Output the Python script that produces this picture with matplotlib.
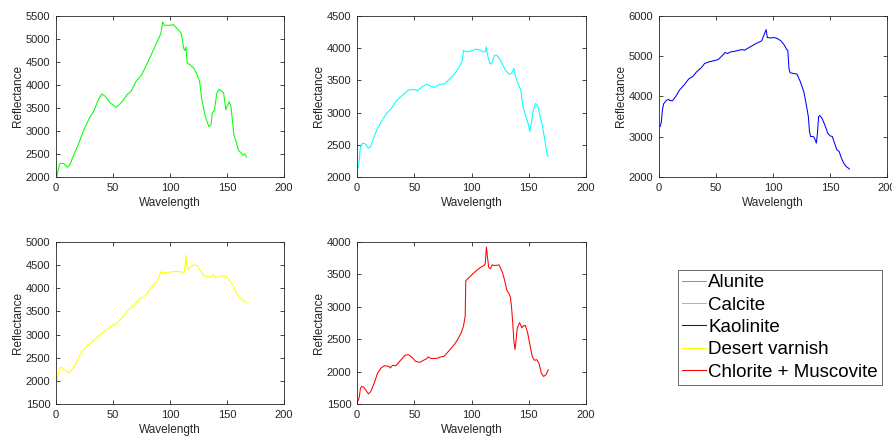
import matplotlib
matplotlib.use("Agg")
import matplotlib.pyplot as plt

plt.rcParams['font.family'] = ['Liberation Sans', 'DejaVu Sans']

names = ["Alunite", "Calcite", "Kaolinite", "Desert varnish", "Chlorite + Muscovite"]
colors = ["#00ff00", "#00ffff", "#0000ff", "#ffff00", "#ff0000"]

alunite_x = [0.6, 2.9, 4, 7, 10, 12, 15, 20, 25, 30, 33, 37, 40, 43, 48, 53, 58, 62, 66, 70, 75, 80, 84, 88, 92,
             93.5, 95, 100, 103, 107, 110, 112, 113, 114, 115, 118, 121, 124, 126, 128, 131, 134, 136, 137, 139,
             141, 143, 145, 147, 149, 150, 152, 153.5, 155, 156, 158, 160, 162, 164, 165.5, 167]
alunite_y = [2000, 2267, 2300, 2290, 2210, 2260, 2447, 2736, 3061, 3313, 3422, 3674, 3804, 3760, 3602, 3515, 3638,
             3782, 3870, 4071, 4215, 4468, 4685, 4901, 5118, 5370, 5298, 5298, 5312, 5204, 5118, 4793, 4750, 4830,
             4482, 4432, 4360, 4215, 4071, 3674, 3313, 3097, 3133, 3386, 3458, 3818, 3905, 3870, 3833, 3458, 3530,
             3638, 3530, 3169, 2916, 2772, 2577, 2534, 2469, 2505, 2433]

calcite_x = [1, 2, 3, 5, 7, 10, 12, 15, 18, 22, 26, 30, 35, 40, 45, 50, 53, 57, 61, 64, 68, 72, 76, 80, 85, 89, 92,
             93, 95, 100, 104, 108, 110, 112, 113, 114, 116, 117.5, 120, 122, 125, 127, 130, 133, 135, 137, 138, 140,
             143, 145, 147, 149, 151, 152, 154, 156, 158, 160, 162, 164, 166, 167]
calcite_y = [2150, 2268, 2474, 2526, 2515, 2448, 2474, 2629, 2758, 2887, 2990, 3067, 3196, 3273, 3350, 3361, 3340,
             3402, 3443, 3412, 3392, 3438, 3443, 3505, 3598, 3696, 3814, 3969, 3943, 3959, 3985, 3969, 3943, 3943,
             4021, 3892, 3763, 3753, 3892, 3892, 3825, 3747, 3649, 3598, 3608, 3686, 3598, 3479, 3350, 3093, 2964,
             2861, 2706, 2809, 3041, 3144, 3093, 2938, 2784, 2577, 2361, 2320]

kaolinite_x = [1, 2, 3, 4, 6, 8, 10, 12, 15, 18, 22, 26, 30, 33, 37, 40, 44, 48, 52, 55, 58, 60, 63, 67, 70, 73, 75,
               80, 85, 90, 92, 94, 95, 98, 101, 104, 107, 110, 112, 113, 114, 115, 118, 121, 124, 127, 129, 131,
               132, 133, 135, 136, 137, 138, 139, 140, 141, 143, 146, 148, 150, 152, 154, 156, 158, 160, 162, 164,
               166, 167]
kaolinite_y = [3254, 3353, 3666, 3814, 3889, 3930, 3897, 3897, 4012, 4161, 4285, 4433, 4507, 4614, 4713, 4820, 4862,
               4887, 4920, 5002, 5093, 5068, 5109, 5126, 5150, 5167, 5150, 5233, 5315, 5381, 5522, 5662, 5464, 5456,
               5464, 5439, 5381, 5274, 5167, 5150, 4697, 4590, 4573, 4557, 4367, 4120, 3831, 3501, 3130, 3006, 3006,
               2990, 2924, 2841, 3089, 3501, 3526, 3460, 3254, 3089, 3023, 3006, 2841, 2676, 2635, 2470, 2346, 2264,
               2223, 2198]

varnish_x = [1, 2, 3, 5, 8, 11, 13, 16, 19, 22, 25, 28, 32, 36, 40, 45, 50, 53, 56, 60, 63, 67, 70, 73, 77, 80, 83,
             87, 90, 92, 95, 98, 101, 105, 109, 112, 113, 114, 115, 116, 118, 121, 124, 127, 130, 133, 136, 138, 140,
             143, 147, 150, 153, 156, 158, 161, 164, 167]
varnish_y = [2002, 2167, 2275, 2289, 2224, 2167, 2203, 2310, 2454, 2597, 2691, 2777, 2848, 2934, 3028, 3121, 3207,
             3228, 3315, 3422, 3530, 3601, 3673, 3766, 3816, 3888, 3996, 4103, 4211, 4354, 4340, 4333, 4354, 4368,
             4354, 4340, 4426, 4713, 4462, 4412, 4462, 4512, 4484, 4368, 4268, 4247, 4247, 4297, 4225, 4268, 4268,
             4247, 4139, 4032, 3888, 3795, 3745, 3695]

chlorite_x = [1, 2, 3, 4, 6, 8, 10, 12, 15, 18, 21, 24, 28, 29, 31, 34, 38, 42, 45, 48, 51, 55, 58, 61, 62, 65, 70,
              73, 76, 80, 85, 88, 91, 93, 94.5, 95, 98, 101, 105, 108, 111, 112, 113, 114, 115, 116.5, 118, 121, 124,
              127, 129, 131, 133, 134, 135, 136, 137, 138, 139, 140, 142, 144, 145, 147, 149, 151, 153, 155, 157,
              159, 161, 163, 165, 167]
chlorite_y = [1552, 1604, 1744, 1770, 1759, 1707, 1656, 1692, 1822, 1977, 2055, 2091, 2081, 2055, 2096, 2091, 2174,
              2252, 2262, 2221, 2159, 2143, 2174, 2200, 2226, 2200, 2205, 2226, 2236, 2314, 2418, 2496, 2600, 2703,
              2859, 3403, 3455, 3507, 3569, 3611, 3637, 3663, 3922, 3766, 3611, 3585, 3647, 3637, 3647, 3533, 3403,
              3248, 3196, 3144, 2989, 2755, 2470, 2340, 2496, 2677, 2755, 2677, 2703, 2714, 2600, 2418, 2236, 2174,
              2184, 2122, 1977, 1925, 1951, 2029]

xs = [alunite_x, calcite_x, kaolinite_x, varnish_x, chlorite_x]
ys = [alunite_y, calcite_y, kaolinite_y, varnish_y, chlorite_y]
ylims = [(2000, 5500), (2000, 4500), (2000, 6000), (1500, 5000), (1500, 4000)]
ytick_steps = [500, 500, 1000, 500, 500]
xticks = [0, 50, 100, 150, 200]

W, H = 892, 437
fig = plt.figure(figsize=(W / 100, H / 100), dpi=100)

boxes = [(56, 16, 284, 177), (357, 16, 586, 177), (659, 16, 887, 177),
         (56, 242, 284, 404), (357, 242, 586, 404)]

gray = "#262626"
handles = []
for i in range(5):
    l, t, r, b = boxes[i]
    ax = fig.add_axes([l / W, 1 - b / H, (r - l) / W, (b - t) / H])
    line, = ax.plot(xs[i], ys[i], color=colors[i], lw=0.75, label=names[i])
    handles.append(line)
    ax.set_xlim(0, 200)
    ax.set_ylim(*ylims[i])
    ax.set_xticks(xticks)
    lo, hi = ylims[i]
    ax.set_yticks(list(range(lo, hi + 1, ytick_steps[i])))
    ax.tick_params(direction='in', length=3, width=0.6, labelsize=8, colors=gray, top=True, right=True,
                   labeltop=False, labelright=False)
    ax.tick_params(axis='x', pad=4.5)
    ax.tick_params(axis='y', pad=4)
    for s in ax.spines.values():
        s.set_color(gray)
        s.set_linewidth(0.6)
    ax.set_xlabel("Wavelength", fontsize=8.5, color=gray, labelpad=3)
    ax.set_ylabel("Reflectance", fontsize=8.5, color=gray, labelpad=1)

leg = fig.legend(handles=handles, labels=names, loc='upper left',
                 bbox_to_anchor=(678 / W, 1 - 270 / H), bbox_transform=fig.transFigure,
                 fontsize=13.5, frameon=True, fancybox=False, edgecolor=gray,
                 handlelength=1.25, handletextpad=0.15, borderpad=0.22, labelspacing=0.28,
                 borderaxespad=0)
leg.get_frame().set_linewidth(0.6)

fig.savefig("out.png", dpi=100)
